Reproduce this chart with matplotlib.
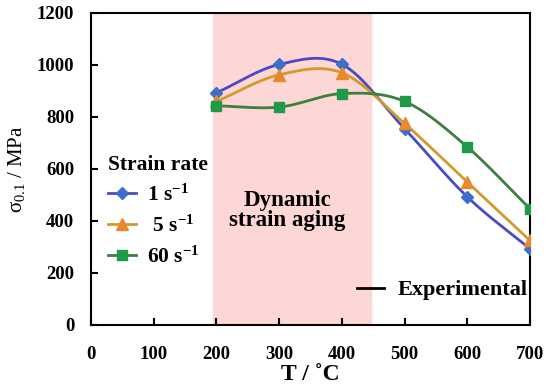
import numpy as np
import matplotlib
matplotlib.use("Agg")
import matplotlib.pyplot as plt
from matplotlib.lines import Line2D

plt.rcParams['font.family'] = ['Liberation Serif', 'DejaVu Serif']
plt.rcParams['mathtext.fontset'] = 'custom'
plt.rcParams['mathtext.rm'] = 'Liberation Serif'
plt.rcParams['mathtext.it'] = 'Liberation Serif:italic'
plt.rcParams['mathtext.bf'] = 'Liberation Serif:bold'

# data
temps = [200, 300, 400, 500, 600, 700]
rate_1 = [893, 1002, 1003, 755, 493, 293]
rate_5 = [860, 962, 970, 775, 550, 325]
rate_60 = [843, 838, 890, 860, 685, 447]
dsa_range = (195, 447)


def smooth(x, y, n=30):
    # catmull-rom style smoothing like excel's smoothed line
    x = np.asarray(x, float)
    y = np.asarray(y, float)
    px = np.concatenate([[2 * x[0] - x[1]], x, [2 * x[-1] - x[-2]]])
    py = np.concatenate([[2 * y[0] - y[1]], y, [2 * y[-1] - y[-2]]])
    xs, ys = [], []
    t = np.linspace(0, 1, n)
    for i in range(1, len(px) - 2):
        p0, p1, p2, p3 = [np.array([px[j], py[j]]) for j in range(i - 1, i + 3)]
        c1 = p1 + (p2 - p0) / 6
        c2 = p2 - (p3 - p1) / 6
        seg = ((1 - t) ** 3)[:, None] * p1 + (3 * (1 - t) ** 2 * t)[:, None] * c1 \
            + (3 * (1 - t) * t ** 2)[:, None] * c2 + (t ** 3)[:, None] * p2
        xs.append(seg[:, 0])
        ys.append(seg[:, 1])
    return np.concatenate(xs), np.concatenate(ys)


fig = plt.figure(figsize=(5.5, 3.91), dpi=100)
ax = fig.add_axes([0.1655, 0.1688, 0.798, 0.798])

ax.axvspan(dsa_range[0], dsa_range[1], color='#fdd6d6', zorder=0)

series = [
    (rate_1, 'D', '#3b6fc8', '#4a4ac4', 6, r'1 $\mathbf{s^{-1}}$'),
    (rate_5, '^', '#e8892e', '#d29a2a', 8, r' 5 $\mathbf{s^{-1}}$'),
    (rate_60, 's', '#1f9a48', '#3d7f3d', 7, r'60 $\mathbf{s^{-1}}$'),
]
handles = []
for vals, mk, mc, lc, ms, lab in series:
    sx, sy = smooth(temps, vals)
    ax.plot(sx, sy, color=lc, lw=2, zorder=2)
    ax.plot(temps, vals, mk, color=mc, ms=ms, zorder=3)
    handles.append(Line2D([], [], color=lc, lw=2, marker=mk, mfc=mc, mec=mc, ms=ms, label=lab))

leg = ax.legend(handles=handles, title='Strain rate', loc='upper left',
                bbox_to_anchor=(0.0, 0.6), frameon=False, handlelength=1.3,
                handletextpad=0.5, labelspacing=0.45, borderpad=0.3,
                prop={'weight': 'bold', 'size': 15.5},
                title_fontproperties={'weight': 'bold', 'size': 15.5})
leg._legend_box.align = 'left'
ax.add_artist(leg)
ax.legend(handles=[Line2D([], [], color='black', lw=2, label='Experimental')],
          loc='lower right', bbox_to_anchor=(1.04, 0.015), frameon=False,
          handlelength=1.2, handletextpad=0.6,
          prop={'weight': 'bold', 'size': 16})

ax.text(313, 440, 'Dynamic\nstrain aging', ha='center', va='center',
        fontsize=16.5, fontweight='bold', linespacing=0.95)

ax.set_xlim(0, 700)
ax.set_ylim(0, 1200)
ax.set_xticks(range(0, 701, 100))
ax.set_yticks(range(0, 1201, 200))
ax.tick_params(direction='in', length=5, width=1.5, labelsize=13.5)
ax.tick_params(axis='x', pad=15)
ax.tick_params(axis='y', pad=12)
for lbl in ax.get_xticklabels() + ax.get_yticklabels():
    lbl.set_fontweight('bold')
for s in ax.spines.values():
    s.set_linewidth(1.5)

ax.set_xlabel('T / ˚C', fontsize=17, fontweight='bold', labelpad=1)
ax.set_ylabel(r'$\mathrm{\sigma_{0.1}}$ / MPa', fontsize=15, labelpad=7)

fig.savefig('out.png', dpi=100)
